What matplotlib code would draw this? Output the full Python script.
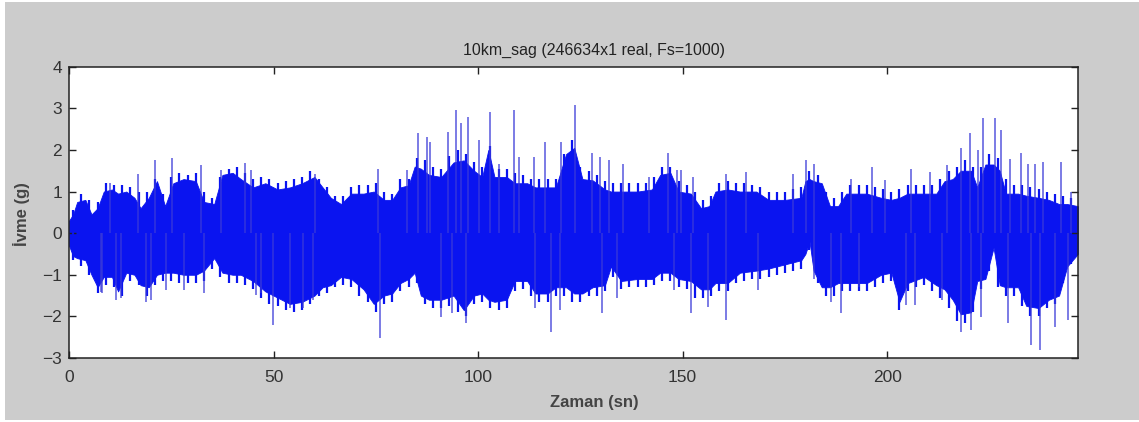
import matplotlib
matplotlib.use("Agg")
import matplotlib.pyplot as plt
from matplotlib.patches import Rectangle

# Dense band of the signal (upper / lower edge of the solid blue)
band_t = [0, 1, 2, 4, 5.5, 7, 8.5, 10.5, 12, 14, 16, 17.5, 19.5, 21.5, 23.5, 25.5, 28, 31,
          33, 35.5, 37.5, 40, 42, 45, 48, 51, 54, 57, 60, 62, 64, 66.5, 69, 72, 74.5, 77,
          79, 81, 83, 84.5, 86, 88, 91, 94, 96.5, 99, 101, 102.5, 104, 107, 109, 112, 114,
          117, 119, 121.5, 123.5, 125.5, 128, 131, 132.5, 135, 139, 142.5, 144.5, 147, 149,
          152, 154.5, 156.5, 158, 161, 164, 168, 171, 175, 179, 180, 181, 182, 184, 186,
          188, 190, 195, 198.5, 201, 203, 205, 209, 212, 214, 216, 218, 220.5, 222, 224,
          226, 227.5, 229, 232, 234, 237, 239.5, 242, 244, 246.6]
band_hi = [0.3, 0.45, 0.75, 0.8, 0.45, 0.6, 1.0, 1.05, 0.95, 1.0, 0.85, 0.6, 0.85, 1.25,
           0.65, 1.2, 1.3, 1.25, 0.75, 0.7, 1.4, 1.45, 1.3, 1.1, 1.2, 1.05, 1.1, 1.2, 1.35,
           1.1, 0.85, 0.7, 0.95, 0.95, 1.0, 0.8, 0.8, 1.1, 1.15, 1.6, 1.55, 1.4, 1.35, 1.7,
           1.75, 1.5, 1.35, 2.0, 1.35, 1.35, 1.2, 1.2, 1.1, 1.1, 1.1, 1.9, 2.05, 1.3, 1.27,
           1.05, 1.0, 1.0, 1.0, 1.05, 1.4, 1.45, 1.0, 0.95, 0.6, 0.65, 1.0, 1.05, 1.0, 1.0,
           0.8, 0.8, 0.85, 1.25, 1.3, 1.25, 1.2, 0.65, 0.65, 0.95, 0.95, 0.85, 0.8, 0.85,
           0.95, 0.95, 0.95, 1.25, 1.3, 1.5, 1.5, 1.1, 1.65, 1.65, 1.5, 0.95, 0.95, 0.9,
           0.85, 0.8, 0.7, 0.7, 0.65]
band_lo = [-0.3, -0.55, -0.6, -0.65, -1.0, -1.3, -1.05, -1.05, -1.4, -0.95, -1.0, -1.25,
           -1.3, -1.0, -0.95, -0.95, -1.0, -1.0, -0.9, -0.6, -0.95, -1.0, -1.0, -1.15, -1.4,
           -1.55, -1.7, -1.65, -1.5, -1.3, -1.25, -1.05, -1.1, -1.35, -1.7, -1.5, -1.45,
           -1.2, -1.1, -0.95, -1.5, -1.6, -1.6, -1.5, -1.85, -1.5, -1.45, -1.6, -1.65, -1.6,
           -1.15, -1.15, -1.45, -1.45, -1.3, -1.3, -1.45, -1.45, -1.3, -1.25, -0.8, -1.15,
           -1.1, -1.1, -0.95, -0.95, -1.1, -1.15, -1.35, -1.35, -1.2, -1.2, -0.95, -0.9,
           -0.85, -0.75, -0.65, -0.5, -0.2, -0.9, -1.3, -1.3, -1.2, -1.2, -1.2, -1.0, -0.95,
           -1.65, -1.2, -1.05, -1.25, -1.35, -1.6, -1.95, -1.9, -1.15, -1.1, -0.35, -1.25,
           -1.3, -1.3, -1.75, -1.8, -1.6, -1.5, -0.8, -0.5]

# Short ragged peaks along the band edge, one per 2 s
fringe_t = list(range(1, 247, 2))
fringe_hi = [0.55, 0.95, 0.8, 0.75, 1.2, 1.15, 1.15, 1.1, 1.0, 1.0, 1.3, 0.95, 1.35, 1.45,
             1.4, 1.45, 1.0, 0.85, 1.35, 1.55, 1.6, 1.45, 1.3, 1.35, 1.3, 1.2, 1.25, 1.3,
             1.35, 1.5, 1.3, 1.1, 0.9, 0.9, 1.1, 1.15, 1.15, 1.2, 1.0, 0.95, 1.3, 1.3, 1.8,
             1.75, 1.6, 1.55, 1.85, 2.0, 1.9, 1.7, 1.6, 2.1, 1.55, 1.55, 1.45, 1.4, 1.3, 1.3,
             1.3, 1.3, 1.9, 2.25, 1.6, 1.5, 1.4, 1.25, 1.2, 1.2, 1.2, 1.2, 1.2, 1.35, 1.6,
             1.6, 1.25, 1.15, 1.0, 0.8, 0.9, 1.2, 1.25, 1.2, 1.2, 1.15, 1.1, 1.0, 1.0, 1.0,
             1.05, 1.1, 1.5, 1.4, 1.0, 0.85, 1.0, 1.15, 1.15, 1.15, 1.1, 1.05, 1.0, 1.05,
             1.15, 1.15, 1.15, 1.15, 1.3, 1.5, 1.6, 1.75, 1.6, 1.6, 1.9, 1.8, 1.3, 1.15,
             1.15, 1.1, 1.05, 1.0, 0.95, 0.9, 0.85]
fringe_lo = [-0.65, -0.8, -1.0, -1.45, -1.25, -1.3, -1.5, -1.15, -1.25, -1.5, -1.25, -1.15,
             -1.15, -1.2, -1.2, -1.2, -1.15, -0.85, -1.05, -1.2, -1.2, -1.25, -1.35, -1.55,
             -1.7, -1.75, -1.85, -1.9, -1.85, -1.7, -1.5, -1.45, -1.3, -1.25, -1.3, -1.5,
             -1.65, -1.9, -1.7, -1.65, -1.4, -1.3, -1.2, -1.7, -1.8, -1.8, -1.75, -1.9, -2.0,
             -1.7, -1.65, -1.8, -1.85, -1.8, -1.4, -1.35, -1.5, -1.65, -1.65, -1.5, -1.5,
             -1.65, -1.65, -1.5, -1.5, -1.4, -1.05, -1.35, -1.3, -1.3, -1.3, -1.25, -1.15,
             -1.15, -1.3, -1.35, -1.55, -1.55, -1.5, -1.4, -1.4, -1.2, -1.15, -1.1, -1.1,
             -1.05, -1.0, -0.95, -0.9, -0.85, -0.4, -1.2, -1.5, -1.5, -1.4, -1.4, -1.4, -1.4,
             -1.3, -1.2, -1.15, -1.85, -1.4, -1.3, -1.25, -1.4, -1.55, -1.8, -2.1, -2.15,
             -1.9, -1.35, -0.9, -1.3, -1.5, -1.5, -1.75, -2.0, -2.0, -1.8, -1.7, -1.2, -0.75]

# Isolated spikes sticking out of the band (time in s, peak value in g)
spike_t = [7.8, 8.0, 10.0, 11.5, 12.7, 16.8, 18.8, 20.0, 21.0, 23.7, 25.2, 28.2, 32.2,
           33.1, 37.1, 42.9, 44.5, 45.7, 46.9, 49.9, 54.0, 57.2, 59.7, 60.1, 75.6, 76.0,
           82.5, 85.3, 87.4, 88.2, 91.0, 92.7, 93.5, 94.7, 95.9, 97.1, 97.5, 100.1, 103.0,
           105.0, 108.7, 109.9, 113.6, 114.0, 116.4, 117.8, 120.1, 120.2, 123.7, 127.8,
           129.8, 130.3, 131.9, 133.9, 135.5, 141.7, 146.5, 147.8, 148.6, 149.6, 152.0,
           152.5, 156.1, 160.6, 160.6, 165.5, 168.3, 176.9, 180.2, 182.2, 182.2, 186.3,
           188.7, 191.1, 193.2, 196.4, 199.4, 204.7, 205.9, 206.7, 210.4, 213.3, 214.5,
           218.1, 218.1, 220.2, 220.6, 222.2, 223.0, 223.4, 226.3, 227.9, 229.5, 230.0,
           232.8, 234.4, 235.2, 236.1, 237.3, 238.1, 241.0, 242.6, 244.2, 245.0]
spike_v = [-1.41, -1.45, 1.2, -1.61, -1.57, 1.43, -1.65, -1.6, 1.75, -1.37, 1.8, -1.37,
           1.63, -1.45, 1.51, 1.69, 1.51, -1.49, -1.45, -2.2, -1.81, -1.81, -1.61, 1.43,
           1.55, -2.53, 1.51, 2.4, 2.32, 2.2, -2.01, 2.44, -1.93, 2.96, 2.64, -2.17, 2.8,
           2.24, 2.92, 1.67, 2.96, 1.83, 1.83, -1.81, 2.2, -2.37, -1.85, 2.2, 3.08, 1.92,
           1.83, -1.93, 1.75, -1.57, 1.67, 1.35, 1.92, -1.37, 1.51, 1.51, -1.93, 1.35,
           -1.77, -2.09, 1.43, 1.47, -1.37, 1.43, 1.75, 1.67, -1.09, -1.65, -1.93, 1.31,
           -1.29, 1.59, 1.27, -1.73, 1.55, -1.73, 1.47, -1.61, 1.63, 2.04, -2.37, 2.4,
           -2.33, 2.0, -2.01, 2.76, 2.76, 2.48, -2.17, 1.79, 1.92, 1.67, -2.69, 1.67,
           -2.81, 1.71, -2.25, 1.71, -2.09, 0.99]

W, H = 1139, 422
fig = plt.figure(figsize=(W / 100, H / 100), dpi=100, facecolor="white")
fig.add_artist(Rectangle((5 / W, 2 / H), 1 - 5 / W, 1 - 4 / H, transform=fig.transFigure,
                         facecolor="#cccccc", edgecolor="none", zorder=-10))

ax = fig.add_axes([69 / W, 1 - 358 / H, (1078 - 69) / W, (358 - 66.7) / H])
ax.set_facecolor("white")

blue = "#0a14f0"
ax.fill_between(band_t, band_lo, band_hi, color=blue, linewidth=0.6, edgecolor=blue)
ax.vlines(fringe_t, fringe_lo, fringe_hi, color=blue, linewidth=1.6)
ax.vlines(spike_t, 0, spike_v, color="#3a3ad8", linewidth=1.1, alpha=0.85)

ax.set_xlim(0, 246.634)
ax.set_ylim(-3, 4)
ax.set_xticks([0, 50, 100, 150, 200])
ax.set_yticks([-3, -2, -1, 0, 1, 2, 3, 4])

font = "Liberation Sans"
ax.tick_params(direction="in", top=True, right=True, length=5, width=1.0,
               labelsize=12.5, colors="#222222", labelcolor="#333333")
ax.tick_params(axis="x", pad=9)
ax.tick_params(axis="y", pad=5)
for lab in ax.get_xticklabels() + ax.get_yticklabels():
    lab.set_fontfamily(font)
for s in ax.spines.values():
    s.set_linewidth(1.1)
    s.set_color("#222222")

ax.text((594 - 69) / 1009, 1.03, "10km_sag (246634x1 real, Fs=1000)", transform=ax.transAxes,
        ha="center", va="bottom", fontsize=11.5, family=font, color="#222222")
fig.text(594 / W, 1 - 402 / H, "Zaman (sn)", ha="center", va="center", fontsize=12,
         family=font, fontweight="bold", color="#444444")
fig.text(22 / W, 1 - 214 / H, "İvme (g)", ha="center", va="center", rotation=90,
         fontsize=12, family=font, fontweight="bold", color="#444444")

fig.savefig("out.png", dpi=100, facecolor=fig.get_facecolor())
